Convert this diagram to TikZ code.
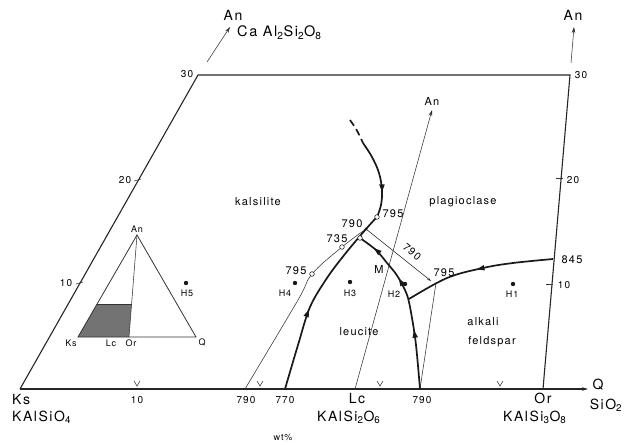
\documentclass[tikz,border=0pt]{standalone}
\usepackage{fontspec}
\setmainfont[LetterSpace=11]{TeX Gyre Heros}
\usetikzlibrary{arrows.meta,decorations.markings}
\newcommand{\fsz}[1]{\fontsize{#1}{#1}\selectfont}
\begin{document}
\begin{tikzpicture}[x=1pt,y=-1pt,
  frm/.style={line width=1.1pt,draw=black!85},
  thinl/.style={line width=0.55pt,draw=black!80},
  bnd/.style={line width=1.7pt,draw=black!90},
  arr/.style={-{Stealth[length=6pt,width=3.6pt]}},
  big/.style={font=\fsz{14}, inner sep=0pt},
  anum/.style={font=\fsz{10}, inner sep=0pt},
  cnum/.style={font=\fsz{11}, inner sep=0pt},
  reg/.style={font=\fsz{11}, inner sep=0pt},
  hl/.style={font=\fsz{9}, inner sep=0pt},
  hdot/.style={circle,fill=black!90,inner sep=0pt,minimum size=4.4pt},
  ocirc/.style={circle,draw=black!85,fill=white,line width=0.6pt,inner sep=0pt,minimum size=4.6pt},
  marr/.style={postaction={decorate},decoration={markings,mark=at position #1 with {\arrow{Triangle[length=8pt,width=5pt]}}}},
]
\useasboundingbox (0,0) rectangle (631,444);

% ---- main frame ----
\coordinate (Ks) at (20,389);
\coordinate (TL) at (198,75);
\coordinate (TR) at (570,75);
\coordinate (Or) at (543,389);
\coordinate (Qtip) at (588,389);
\draw[frm,line join=miter] (Ks) -- (TL) -- (TR) -- (Or);
\draw[frm,arr] (Ks) -- (Qtip);

% ---- An arrows at top ----
\coordinate (anA) at (207,62);
\coordinate (anB) at (230,27);
\draw[thinl,arr] (anA) -- (anB);
\node[big] (anlbl) at (233,15) {An};
\node[big,anchor=base west] (caal) at (237,37) {\fsz{14.5}Ca\ Al\textsubscript{2}Si\textsubscript{2}O\textsubscript{8}};
\coordinate (anC) at (571,63);
\coordinate (anD) at (574,27);
\draw[thinl,arr] (anC) -- (anD);
\node[big] (anlbl2) at (573,15) {An};

% ---- edge ticks ----
\draw[thinl] (76,284) -- (83,282);
\node[anum] (l10) at (66,283) {10};
\draw[thinl] (134,181) -- (141,179);
\node[anum] (l20) at (125,180) {20};
\node[anum] (l30) at (187,74) {30};
\draw[thinl] (556,178) -- (563,178);
\node[anum] (r20) at (573,180) {20};
\draw[thinl] (546,284) -- (553,284);
\node[anum] (r10) at (564,285) {10};
\node[anum] (r30) at (581,75) {30};
\foreach \tx in {137,260,380,500}
  \draw[thinl] (\tx-3,381) -- (\tx,386) -- (\tx+3,381);

% ---- bottom labels ----
\node[big,anchor=west] (ksl) at (12,399) {Ks};
\node[big,anchor=base west] (ksf) at (12,421) {KAlSiO\textsubscript{4}};
\node[anum] (b10) at (137,400) {10};
\node[anum] (b790a) at (246,400) {790};
\node[anum] (b770) at (285,400) {770};
\node[big] (lcl) at (357,398) {Lc};
\node[big,anchor=base west] (lcf) at (317,421) {KAlSi\textsubscript{2}O\textsubscript{6}};
\node[anum] (b790b) at (422,400) {790};
\node[big] (orl) at (543,398) {Or};
\node[big,anchor=base west] (orf) at (503,421) {KAlSi\textsubscript{3}O\textsubscript{8}};
\node[big] (ql) at (598,385) {Q};
\node[big] (qf) at (606,405) {SiO\textsubscript{2}};
\node[hl] (wt) at (283,437) {wt\%};

% ---- inset triangle ----
\coordinate (iKs) at (78,337);
\coordinate (iQ) at (196,337);
\coordinate (iAn) at (137,235);
\coordinate (iOr) at (129,337);
\coordinate (iS1) at (97,304);
\coordinate (iS2) at (131.5,304);
\fill[black!55] (iKs) -- (iS1) -- (iS2) -- (iOr) -- cycle;
\draw[thinl,line width=0.8pt] (iKs) -- (iAn) -- (iQ) -- cycle;
\draw[thinl] (iAn) -- (iOr);
\draw[thinl] (iS1) -- (iS2);
\node[hl] (ianl) at (137,229) {An};
\node[hl] (iksl) at (71,343) {Ks};
\node[hl] (ilcl) at (111,343) {Lc};
\node[hl] (iorl) at (131,343) {Or};
\node[hl] (iql) at (202,342) {Q};

% ---- region labels ----
\node[reg] (kal) at (258,202) {kalsilite};
\node[reg] (plag) at (463,202) {plagioclase};
\node[reg] (leu) at (359,332) {leucite};
\node[reg] (alk) at (483,322) {alkali};
\node[reg] (feld) at (492,342) {feldspar};

% ---- key points ----
\coordinate (b770p) at (285,389);
\coordinate (j790) at (366,229);
\coordinate (p795a) at (377,217);
\coordinate (dtop) at (350,120);
\coordinate (dmid) at (363,143);
\coordinate (b790p) at (420,389);
\coordinate (p735) at (360,238);
\coordinate (p845) at (553,259);
\coordinate (cend) at (409,299);
\coordinate (b790l) at (245,389);
\coordinate (e795) at (431,281);
\coordinate (p795b) at (436,283);
\coordinate (bLc) at (355,389);
\coordinate (anE) at (432,110);

% ---- thin lines ----
\draw[thinl,arr] (bLc) -- (anE);
\node[cnum] (anin) at (432,101) {An};
\draw[thinl] plot[smooth,tension=0.6] coordinates {(b790l) (298,300) (312,274) (342,247) (j790)};
\draw[thinl,-{Stealth[length=4pt,width=2.6pt]}] (j790) -- (e795);
\draw[thinl] (p795b) -- (b790p);

% ---- thick boundary curves ----
\draw[bnd,marr=0.42] plot[smooth,tension=0.55] coordinates {(b770p) (298,345) (310,307) (327,278) (345,254) (j790) (p795a)};
\draw[bnd,dash pattern=on 7pt off 4pt] (dtop) to[bend left=6] (dmid);
\draw[bnd,marr=0.68] plot[smooth,tension=0.6] coordinates {(dmid) (372,157) (379,173) (382,190) (381,205) (p795a)};
\draw[bnd,
  postaction={decorate},
  decoration={markings,
    mark=at position 0.35 with {\arrow{Triangle[length=8pt,width=5pt]}},
    mark=at position 0.67 with {\arrow{Triangle[length=8pt,width=5pt]}},
    mark=at position 0.90 with {\arrow{Triangle[length=8pt,width=5pt]}}}]
  plot[smooth,tension=0.55] coordinates {(b790p) (416,345) (412,318) (408,298) (403,286) (396,274) (387,263) (376,250) (p735)};
\draw[bnd,marr=0.51] plot[smooth,tension=0.6] coordinates {(p845) (513,263) (483,268) (447,278) (cend)};

% ---- points and labels ----
\node[ocirc] (oc1) at (312,274) {};
\node[ocirc] (oc2) at (342,247) {};
\node[ocirc] (oc3) at (p735) {};
\node[ocirc] (oc4) at (p795a) {};
\node[hdot,minimum size=3pt] (jm) at (j790) {};
\node[cnum] (t795l) at (296,271) {795};
\node[cnum] (t790) at (352,224) {790};
\node[cnum] (t795t) at (393,214) {795};
\node[cnum] (t735) at (337,239) {735};
\node[cnum] (tM) at (379,269) {M};
\node[font=\fsz{10.5},inner sep=0pt,rotate=-40] (t790r) at (412,252) {790};
\node[cnum] (t795r) at (444,273) {795};
\node[cnum] (t845) at (572,260) {845};

\node[hdot] (h1) at (513,284) {};
\node[hl] (h1l) at (512,294) {H1};
\node[hdot] (h2) at (405,284) {};
\node[hl] (h2l) at (394,294) {H2};
\node[hdot] (h3) at (350,282) {};
\node[hl] (h3l) at (350,293) {H3};
\node[hdot] (h4) at (295,283) {};
\node[hl] (h4l) at (285,293) {H4};
\node[hdot] (h5) at (186,283) {};
\node[hl] (h5l) at (187,293) {H5};
\end{tikzpicture}
\end{document}
